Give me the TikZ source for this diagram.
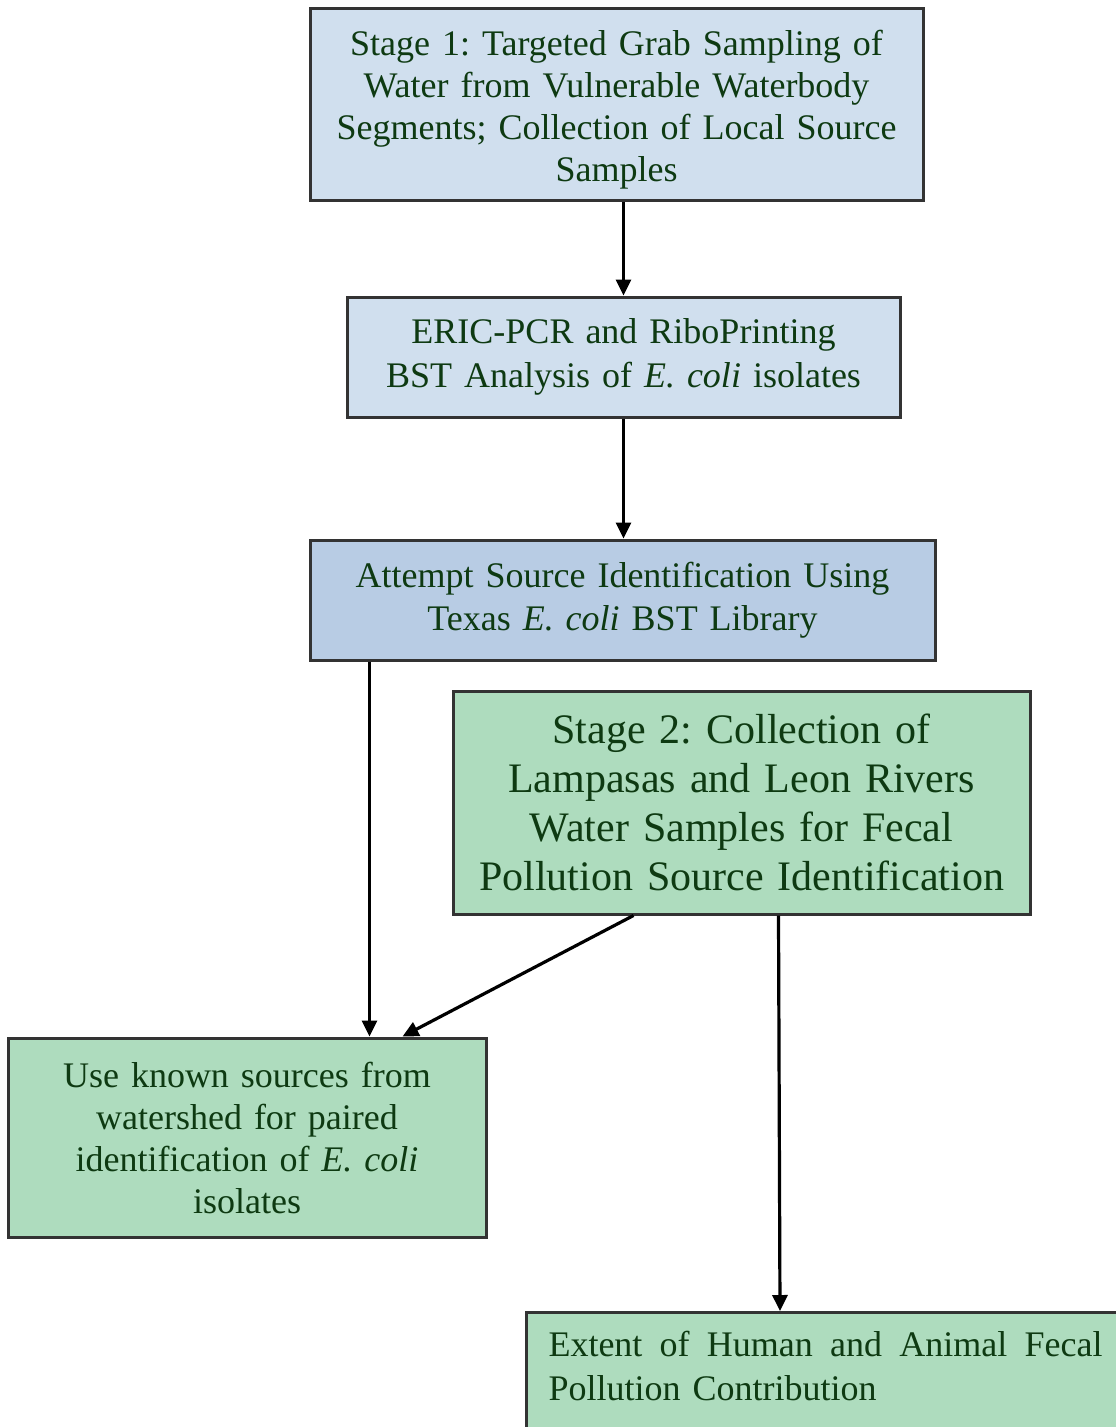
\documentclass[tikz,border=0pt]{standalone}
\usepackage{fontspec}
\setmainfont[WordSpace=0.85]{Liberation Serif}
\usetikzlibrary{arrows.meta}
\definecolor{bluefill}{RGB}{208,223,238}
\definecolor{bluefilltwo}{RGB}{184,204,228}
\definecolor{greenfill}{RGB}{174,220,190}
\definecolor{boxline}{RGB}{51,51,51}
\definecolor{txt}{RGB}{14,58,18}
\tikzset{
  box/.style={draw=boxline, line width=3pt, rectangle, align=center, text=txt, inner xsep=6pt, inner ysep=0pt,
    font=\fontsize{36}{42}\selectfont\frenchspacing},
  conn/.style={line width=3.2pt, -{Triangle[length=16pt,width=15pt]}},
}
\begin{document}
\begin{tikzpicture}[x=1pt,y=-1pt]
\useasboundingbox (0,0) rectangle (1116,1427);
\clip (0,0) rectangle (1116,1427);
\node[box, fill=bluefill, minimum width=613pt, minimum height=192pt, text width=601pt, text height=37pt] (B1) at (616.5,104)
  {Stage 1: Targeted Grab Sampling of\\Water from Vulnerable Waterbody\\Segments; Collection of Local Source\\Samples};
\node[box, fill=bluefill, minimum width=553pt, minimum height=120pt, text width=541pt, font=\fontsize{36}{44}\selectfont\frenchspacing] (B2) at (623.5,357)
  {ERIC-PCR and RiboPrinting\\BST Analysis of \textit{E. coli} isolates};
\node[box, fill=bluefilltwo, minimum width=625pt, minimum height=120pt, text width=613pt, font=\fontsize{36}{43}\selectfont\frenchspacing] (B3) at (622.5,600)
  {Attempt Source Identification Using\\Texas \textit{E. coli} BST Library};
\node[box, fill=greenfill, minimum width=577pt, minimum height=223pt, text width=565pt, font=\fontsize{42}{49}\selectfont\frenchspacing] (B4) at (741.5,802.5)
  {Stage 2: Collection of\\Lampasas and Leon Rivers\\Water Samples for Fecal\\Pollution Source Identification};
\node[box, fill=greenfill, anchor=north west, align=left, inner xsep=22pt, inner ysep=19pt, text width=556pt, text depth=70pt, font=\fontsize{36}{44}\selectfont\frenchspacing] (B6) at (525,1311)
  {\hbox to 554pt{Extent\hfill of\hfill Human\hfill and\hfill Animal\hfill Fecal}\\Pollution Contribution};
\node[box, fill=greenfill, minimum width=478pt, minimum height=199pt, text width=466pt] (B5) at (247,1137.5)
  {Use known sources from\\watershed for paired\\identification of \textit{E. coli}\\isolates};
\draw[conn] (B1.south -| B2.north) -- (B2.north);
\draw[conn] (B2.south) -- (B3.north -| B2.south);
\draw[conn] ([xshift=61pt]B3.south west) -- ([xshift=363pt]B5.north west);
\draw[conn] ([xshift=182pt]B4.south west) -- ([xshift=396pt]B5.north west);
\draw[conn] ([xshift=327pt]B4.south west) -- ([xshift=255pt]B6.north west);
\end{tikzpicture}
\end{document}
